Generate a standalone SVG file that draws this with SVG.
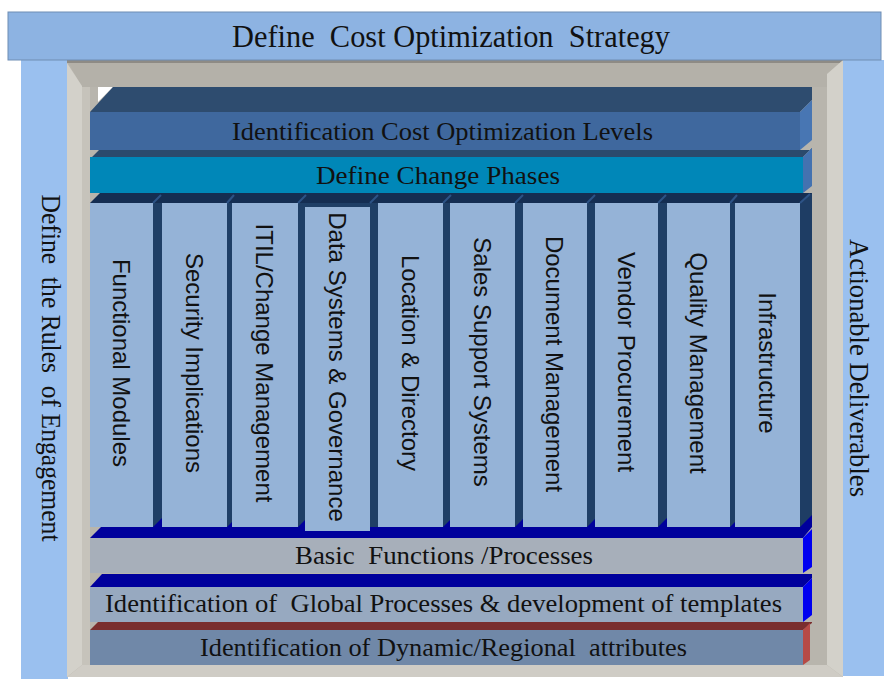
<svg xmlns="http://www.w3.org/2000/svg" width="884" height="679" viewBox="0 0 884 679" xml:space="preserve">
<style>
.serif{font-family:"Liberation Serif","Times New Roman",serif;fill:#111;white-space:pre}
.sans{font-family:"Liberation Sans",Arial,sans-serif;fill:#111;font-size:24px}
.col{fill:#95B3D7}
.gapface{fill:#1F3F66}
.edge{stroke:#2D5386;stroke-width:2}
.blue{fill:#00009C}
</style>
<rect width="884" height="679" fill="#ffffff"/>

<g id="rules">
  <rect x="21" y="60" width="47" height="619" fill="#9AC0EF"/>
  <text class="serif" font-size="27" text-anchor="middle" textLength="347" lengthAdjust="spacingAndGlyphs" transform="translate(42,368) rotate(90)">Define  the Rules  of Engagement</text>
</g>

<g id="deliverables">
  <rect x="843" y="60" width="41" height="616" fill="#9AC0EF"/>
  <text class="serif" font-size="27" text-anchor="middle" textLength="258" lengthAdjust="spacingAndGlyphs" transform="translate(850,368) rotate(90)">Actionable Deliverables</text>
</g>

<g id="frame">
  <rect x="67" y="60" width="776" height="617" fill="#B8B5AD"/>
  <polygon points="67,60 843,60 827,74 827,87 82,87" fill="#B4B1A9"/>
  <rect x="67" y="60" width="776" height="3" fill="#8E8B85"/>
  <polygon points="67,63 82,86 82,665 67,677" fill="#D3D1CA"/>
  <rect x="82" y="87" width="8" height="578" fill="#C6C3BB"/>
  <polygon points="843,60 827,74 827,665 843,677" fill="#D3D1CA"/>
  <polygon points="67,677 82,665 827,665 843,677" fill="#CFCCC5"/>
  <polygon points="98,87 113,87 98,102" fill="#ffffff"/>
</g>

<g id="title">
  <rect x="8" y="12" width="873" height="48" fill="#8DB3E2" stroke="#6F8DB3" stroke-width="1"/>
  <text class="serif" x="451" y="47" font-size="32" text-anchor="middle" textLength="438" lengthAdjust="spacingAndGlyphs">Define  Cost Optimization  Strategy</text>
</g>

<g id="levels">
  <polygon points="90,112 113,87 812,87 812,100 800,112" fill="#2E4C6F"/>
  <polygon points="800,112 812,100 812,140 800,150" fill="#4876B3"/>
  <rect x="90" y="112" width="710" height="38" fill="#3F689E"/>
  <text class="serif" x="442.5" y="140" font-size="26" text-anchor="middle" textLength="421" lengthAdjust="spacingAndGlyphs">Identification Cost Optimization Levels</text>
</g>

<g id="phases">
  <polygon points="92,157 99,150 812,150 812,148 803,157" fill="#2B4A6C"/>
  <polygon points="803,157 812,148 812,186 803,193" fill="#4472B0"/>
  <rect x="90" y="157" width="713" height="36" fill="#0087B8"/>
  <text class="serif" x="438" y="184" font-size="26" text-anchor="middle" textLength="244" lengthAdjust="spacingAndGlyphs">Define Change Phases</text>
</g>

<g id="columns-block">
  <polygon points="90,203 100,193 812,193 812,195 800,203" fill="#152E52"/>
  <rect x="90" y="203" width="710" height="324" class="gapface"/>
  <polygon points="800,203 812,193 812,527 800,527" fill="#1E3D64"/>
</g>

<g id="basic">
  <polygon points="90,538 101,527 812,527 803,538" class="blue"/>
  <g class="blue">
    <polygon points="153,527 162,518 162,527"/>
    <polygon points="227,527 232,522 232,527"/>
    <polygon points="298,527 305,520 305,527"/>
    <polygon points="443,527 450,520 450,527"/>
    <polygon points="515,527 523,519 523,527"/>
    <polygon points="587,527 595,519 595,527"/>
    <polygon points="658,527 667,518 667,527"/>
    <polygon points="730,527 735,522 735,527"/>
    <polygon points="800,527 812,515 812,527"/>
  </g>
  <polygon points="803,538 812,529 812,567 803,573" fill="#0000F0"/>
  <rect x="90" y="538" width="713" height="35" fill="#A7AFBA"/>
  <text class="serif" x="444" y="564" font-size="26" text-anchor="middle" textLength="298" lengthAdjust="spacingAndGlyphs">Basic  Functions /Processes</text>
</g>

<g id="global">
  <polygon points="90,587 102,574 812,574 812,578 803,587" class="blue"/>
  <polygon points="803,587 812,578 812,615 803,622" fill="#0000F0"/>
  <rect x="90" y="587" width="713" height="35" fill="#97A9C0"/>
  <text class="serif" x="443.5" y="612" font-size="26" text-anchor="middle" textLength="677" lengthAdjust="spacingAndGlyphs">Identification of  Global Processes &amp; development of templates</text>
</g>

<g id="dynamic">
  <polygon points="90,630 98,622 812,622 812,623 803,630" fill="#7A2E2E"/>
  <polygon points="803,630 810,623 810,660 803,665" fill="#B64A46"/>
  <rect x="90" y="630" width="713" height="35" fill="#7088A8"/>
  <text class="serif" x="443.5" y="656" font-size="26" text-anchor="middle" textLength="487" lengthAdjust="spacingAndGlyphs">Identification of Dynamic/Regional  attributes</text>
</g>

<g id="columns">
  <g id="col-functional">
    <rect class="col" x="90" y="203" width="63" height="324"/>
    <line class="edge" x1="153" y1="203" x2="161" y2="195"/>
    <text class="sans" text-anchor="middle" y="8.6" transform="translate(121.5,363) rotate(90)">Functional Modules</text>
  </g>
  <g id="col-security">
    <rect class="col" x="162" y="203" width="65" height="324"/>
    <line class="edge" x1="227" y1="203" x2="234" y2="195"/>
    <text class="sans" text-anchor="middle" y="8.6" transform="translate(194.5,363) rotate(90)">Security Implications</text>
  </g>
  <g id="col-itil">
    <rect class="col" x="232" y="203" width="66" height="324"/>
    <line class="edge" x1="298" y1="203" x2="306" y2="195"/>
    <text class="sans" text-anchor="middle" y="8.6" transform="translate(265,363) rotate(90)">ITIL/Change Management</text>
  </g>
  <g id="col-data">
    <rect class="col" x="305" y="207" width="65" height="324"/>
    <line class="edge" x1="370" y1="203" x2="378" y2="195"/>
    <text class="sans" text-anchor="middle" y="8.6" transform="translate(337.5,367) rotate(90)">Data Systems &amp; Governance</text>
  </g>
  <g id="col-location">
    <rect class="col" x="378" y="203" width="65" height="324"/>
    <line class="edge" x1="443" y1="203" x2="451" y2="195"/>
    <text class="sans" text-anchor="middle" y="8.6" transform="translate(410.5,363) rotate(90)">Location &amp; Directory</text>
  </g>
  <g id="col-sales">
    <rect class="col" x="450" y="203" width="65" height="324"/>
    <line class="edge" x1="515" y1="203" x2="523" y2="195"/>
    <text class="sans" text-anchor="middle" y="8.6" transform="translate(482.5,362) rotate(90)">Sales Support Systems</text>
  </g>
  <g id="col-document">
    <rect class="col" x="523" y="203" width="64" height="324"/>
    <line class="edge" x1="587" y1="203" x2="595" y2="195"/>
    <text class="sans" text-anchor="middle" y="8.6" transform="translate(555,364) rotate(90)">Document Management</text>
  </g>
  <g id="col-vendor">
    <rect class="col" x="595" y="203" width="63" height="324"/>
    <line class="edge" x1="658" y1="203" x2="666" y2="195"/>
    <text class="sans" text-anchor="middle" y="8.6" transform="translate(626.5,362) rotate(90)">Vendor Procurement</text>
  </g>
  <g id="col-quality">
    <rect class="col" x="667" y="203" width="63" height="324"/>
    <line class="edge" x1="730" y1="203" x2="737" y2="195"/>
    <text class="sans" text-anchor="middle" y="8.6" transform="translate(698.5,363) rotate(90)">Quality Management</text>
  </g>
  <g id="col-infrastructure">
    <rect class="col" x="735" y="203" width="65" height="324"/>
    <line class="edge" x1="800" y1="203" x2="810" y2="194"/>
    <text class="sans" text-anchor="middle" y="8.6" transform="translate(767.5,363) rotate(90)">Infrastructure</text>
  </g>
</g>

<g id="connectors"></g>
</svg>
